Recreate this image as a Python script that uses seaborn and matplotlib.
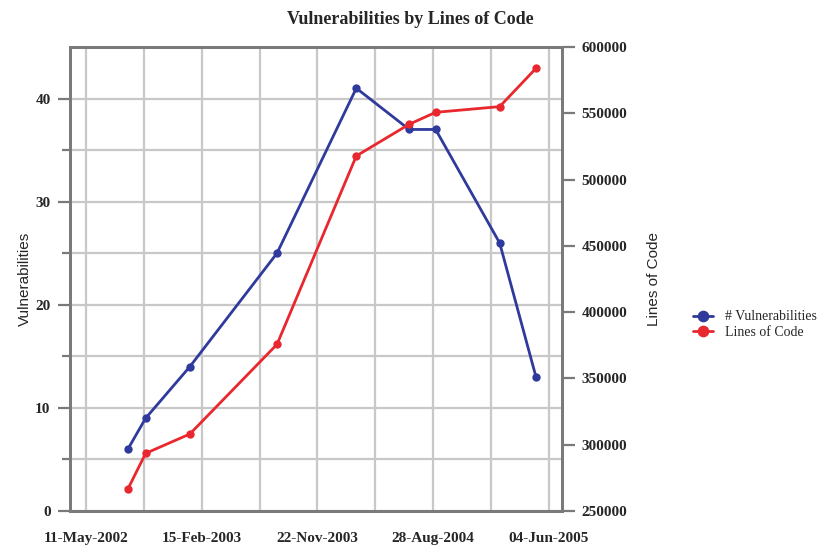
import pandas as pd
import matplotlib
matplotlib.use("Agg")
import matplotlib.pyplot as plt
import matplotlib.dates as mdates
import seaborn as sns

# values
release_dates = ["2002-08-20", "2002-10-02", "2003-01-17", "2003-08-16", "2004-02-24",
                 "2004-07-01", "2004-09-03", "2005-02-05", "2005-05-04"]
vulnerabilities = [6, 9, 14, 25, 41, 37, 37, 26, 13]
lines_of_code = [266600, 293500, 308100, 375700, 517800, 541700, 550700, 555000, 583900]
tick_start = "2002-05-11"
tick_step_days = 140

df = pd.DataFrame({
    "date": pd.to_datetime(release_dates),
    "vuln": vulnerabilities,
    "loc": lines_of_code,
})

sns.set_style("white")
plt.rcParams["font.family"] = ["Liberation Serif", "DejaVu Serif"]

blue = "#2f3a9c"
red = "#e8282e"
grey = "#7a7a7a"
grid = "#c8c8c8"

fig = plt.figure(figsize=(8.2, 5.46), dpi=100)
ax1 = fig.add_axes([0.0854, 0.064, 0.6, 0.85])
ax2 = ax1.twinx()

sns.lineplot(data=df, x="date", y="vuln", ax=ax1, color=blue, marker="o",
             markersize=6, markeredgewidth=0, linewidth=2, label="# Vulnerabilities", legend=False)
sns.lineplot(data=df, x="date", y="loc", ax=ax2, color=red, marker="o",
             markersize=6, markeredgewidth=0, linewidth=2, label="Lines of Code", legend=False)

# x ticks: labelled every 280 days, grid every 140 days
start = pd.Timestamp(tick_start)
all_ticks = [start + pd.Timedelta(days=tick_step_days * i) for i in range(9)]
major = all_ticks[::2]
minor = all_ticks[1::2]
ax1.set_xticks(mdates.date2num(major))
ax1.set_xticks(mdates.date2num(minor), minor=True)
ax1.set_xticklabels([d.strftime("%d-%b-%Y") for d in major])
ax1.set_xlim(mdates.date2num(start - pd.Timedelta(days=39)),
             mdates.date2num(all_ticks[-1] + pd.Timedelta(days=32)))

ax1.set_ylim(0, 45)
ax1.set_yticks([0, 10, 20, 30, 40])
ax1.set_yticks([5, 15, 25, 35], minor=True)
ax2.set_ylim(250000, 600000)
ax2.set_yticks(range(250000, 600001, 50000))

ax1.grid(True, which="both", color=grid, linewidth=1.6)
ax1.set_axisbelow(True)
ax2.grid(False)

for ax in (ax1, ax2):
    for sp in ax.spines.values():
        sp.set_visible(True)
        sp.set_color(grey)
        sp.set_linewidth(2)
    ax.tick_params(which="major", direction="out", length=9, width=1.6, color=grey,
                   labelsize=11, pad=5)
    ax.tick_params(which="minor", direction="out", length=6, width=1.6, color=grey)
    for lab in ax.get_xticklabels() + ax.get_yticklabels():
        lab.set_fontweight("bold")
ax1.tick_params(axis="x", which="minor", length=9)
ax1.tick_params(axis="x", which="major", pad=6)

ax1.set_xlabel("")
ax1.set_ylabel("Vulnerabilities", family=["Liberation Sans", "DejaVu Sans"], fontsize=11,
               labelpad=2)
ax2.set_ylabel("Lines of Code", family=["Liberation Sans", "DejaVu Sans"], fontsize=11,
               labelpad=14)

fig.text(0.5, 0.965, "Vulnerabilities by Lines of Code", ha="center", va="center",
         fontsize=13, fontweight="bold")

h1, l1 = ax1.get_legend_handles_labels()
h2, l2 = ax2.get_legend_handles_labels()
fig.legend(h1 + h2, l1 + l2, loc="center left", bbox_to_anchor=(0.83, 0.405),
           frameon=False, fontsize=10, handlelength=1.4, labelspacing=0.2,
           handletextpad=0.9, markerscale=1.4)

fig.savefig("out.png", dpi=100)
